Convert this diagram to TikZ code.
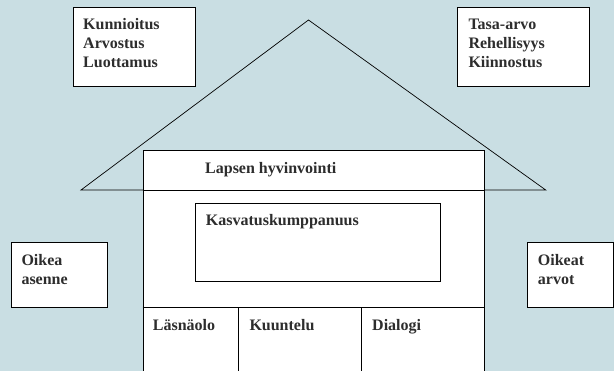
\documentclass[tikz,border=0pt]{standalone}
\usepackage{fontspec}
\setmainfont{Liberation Serif}
\definecolor{bg}{RGB}{201,222,227}
\definecolor{txt}{RGB}{45,45,45}
\begin{document}
\begin{tikzpicture}[x=1pt,y=-1pt,
  box/.style={draw=black,fill=white,line width=0.8pt,inner sep=0pt,anchor=north west},
  lbl/.style={inner sep=0pt,anchor=base west,text=txt,font=\fontsize{16}{19}\selectfont\bfseries},
  line/.style={draw=black,line width=0.7pt}]
\fill[bg] (0,0) rectangle (614,371);
\useasboundingbox (0,0) rectangle (614,371);
\clip (0,0) rectangle (614,371);
% roof
\coordinate (apex) at (308.5,20);
\coordinate (rl) at (81,190);
\coordinate (rr) at (545.7,190);
\draw[line] (rl) -- (apex) -- (rr) -- cycle;
% top boxes
\node[box,minimum width=122,minimum height=78.7] (b1) at (72.5,7) {};
\node[lbl] (t1a) at (83,29.5) {Kunnioitus};
\node[lbl] (t1b) at (83,48.5) {Arvostus};
\node[lbl] (t1c) at (83,67.5) {Luottamus};
\node[box,minimum width=132,minimum height=78.7] (b2) at (457.3,7) {};
\node[lbl] (t2a) at (468.3,29.5) {Tasa-arvo};
\node[lbl] (t2b) at (468.3,48.5) {Rehellisyys};
\node[lbl] (t2c) at (468.3,67.5) {Kiinnostus};
% house
\node[box,minimum width=341.3,minimum height=230] (house) at (142.7,150.3) {};
\draw[line] (house.west |- rl) -- (house.east |- rl);
\node[lbl] (t3) at (205,173.5) {Lapsen hyvinvointi};
\node[box,minimum width=245.6,minimum height=77.7] (kk) at (194.7,203.3) {};
\node[lbl] (t4) at (205.7,225.5) {Kasvatuskumppanuus};
\coordinate (row) at (142.7,307.3);
\draw[line] (row) -- (house.east |- row);
\coordinate (d1) at (238.3,307.3);
\coordinate (d2) at (361.3,307.3);
\draw[line] (d1) -- (d1 |- house.south);
\draw[line] (d2) -- (d2 |- house.south);
\node[lbl] (t5) at (152.7,330.5) {Läsnäolo};
\node[lbl] (t6) at (249.3,330.5) {Kuuntelu};
\node[lbl] (t7) at (372,330.5) {Dialogi};
% side boxes
\node[box,minimum width=96.3,minimum height=65.3] (b3) at (11,242) {};
\node[lbl] (t8a) at (21.3,265.5) {Oikea};
\node[lbl] (t8b) at (21.3,284.5) {asenne};
\node[box,minimum width=85.2,minimum height=65.3] (b4) at (527.3,242) {};
\node[lbl] (t9a) at (537.7,265.5) {Oikeat};
\node[lbl] (t9b) at (537.7,284.5) {arvot};
\end{tikzpicture}
\end{document}
